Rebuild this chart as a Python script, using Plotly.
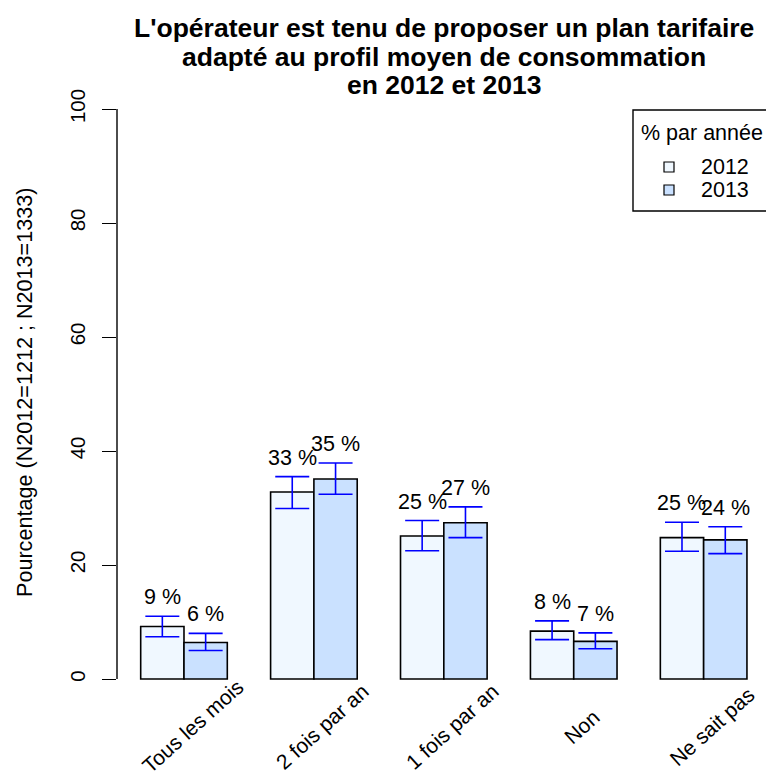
import plotly.graph_objects as go

# Survey answers, share of respondents (%) per year with 95 % confidence bounds
categories = ["Tous les mois", "2 fois par an", "1 fois par an", "Non", "Ne sait pas"]
years = ["2012", "2013"]
pct_2012 = [9.2, 32.8, 25.1, 8.4, 24.8]
pct_2013 = [6.4, 35.1, 27.4, 6.6, 24.4]
low_2012 = [7.4, 29.9, 22.5, 6.9, 22.4]
high_2012 = [11.0, 35.5, 27.8, 10.2, 27.5]
low_2013 = [5.0, 32.4, 24.8, 5.3, 22.0]
high_2013 = [8.0, 37.9, 30.2, 8.1, 26.7]
y_ticks = [0, 20, 40, 60, 80, 100]

fill_colors = ["#F0F8FF", "#CAE1FF"]
FONT = "Liberation Sans, Arial, sans-serif"
TXT = 21.5  # size of the horizontal labels

W, H = 766, 778
ML, MR, MT, MB = 117, 0, 83, 76


def paper_x(px):
    return (px - ML) / (W - ML - MR)


def paper_y(py):
    return (H - MB - py) / (H - MT - MB)


series = [
    (years[0], pct_2012, low_2012, high_2012, fill_colors[0], -0.5),
    (years[1], pct_2013, low_2013, high_2013, fill_colors[1], 0.5),
]

group_centers = [2 + 3 * i for i in range(len(categories))]

fig = go.Figure()
annotations = []

for name, vals, lows, highs, color, offset in series:
    xs = [c + offset for c in group_centers]
    fig.add_trace(go.Bar(
        x=xs, y=vals, width=1, name=name,
        marker=dict(color=color, line=dict(color="black", width=1.6)),
        error_y=dict(
            type="data", symmetric=False,
            array=[h - v for h, v in zip(highs, vals)],
            arrayminus=[v - l for v, l in zip(vals, lows)],
            color="#0000FF", thickness=1.6, width=17,
        ),
        showlegend=False, hoverinfo="skip",
    ))
    for x, v, h in zip(xs, vals, highs):
        annotations.append(dict(
            x=x, y=h, xref="x", yref="y", text=f"{round(v)} %",
            showarrow=False, yanchor="middle", yshift=19,
            font=dict(size=TXT, color="black", family=FONT),
        ))

# slanted category labels under each pair of bars
for c, lab in zip(group_centers, categories):
    annotations.append(dict(
        x=c + 0.19, y=paper_y(726), xref="x", yref="paper", text=lab,
        textangle=-42, showarrow=False, xanchor="center", yanchor="middle",
        font=dict(size=21, color="black", family=FONT),
    ))

# title, three centred lines
title_lines = [
    "L'opérateur est tenu de proposer un plan tarifaire",
    "adapté au profil moyen de consommation",
    "en 2012 et 2013",
]
for line, py in zip(title_lines, [28, 56.5, 85]):
    annotations.append(dict(
        x=paper_x(444), y=paper_y(py), xref="paper", yref="paper",
        text=f"<b>{line}</b>", showarrow=False, xanchor="center", yanchor="middle",
        font=dict(size=26.5, color="black", family=FONT),
    ))

# y axis title
annotations.append(dict(
    x=paper_x(24), y=paper_y(393), xref="paper", yref="paper",
    text="Pourcentage (N2012=1212 ; N2013=1333)", textangle=-90,
    showarrow=False, xanchor="center", yanchor="middle",
    font=dict(size=21.6, color="black", family=FONT),
))

# axis line from 0 to 100 and the legend box
shapes = [
    dict(type="line", xref="paper", yref="y", x0=0, x1=0, y0=y_ticks[0], y1=y_ticks[-1],
         line=dict(color="black", width=1.4)),
    dict(type="rect", xref="paper", yref="paper",
         x0=paper_x(633), x1=paper_x(780), y0=paper_y(211), y1=paper_y(110),
         line=dict(color="black", width=1.4), fillcolor="white"),
]
annotations.append(dict(
    x=paper_x(702), y=paper_y(133), xref="paper", yref="paper", text="% par année",
    showarrow=False, xanchor="center", yanchor="middle",
    font=dict(size=TXT, color="black", family=FONT),
))
for i, (name, color) in enumerate(zip(years, fill_colors)):
    cy = [167, 190][i]
    shapes.append(dict(
        type="rect", xref="paper", yref="paper",
        x0=paper_x(664), x1=paper_x(674), y0=paper_y(cy + 5), y1=paper_y(cy - 5),
        line=dict(color="black", width=1.2), fillcolor=color,
    ))
    annotations.append(dict(
        x=paper_x(699), y=paper_y(cy), xref="paper", yref="paper", text=name,
        showarrow=False, xanchor="left", yanchor="middle",
        font=dict(size=TXT, color="black", family=FONT),
    ))

px_per_unit = 5.70
fig.update_layout(
    width=W, height=H,
    margin=dict(l=ML, r=MR, t=MT, b=MB, pad=0),
    paper_bgcolor="white", plot_bgcolor="white",
    barmode="overlay",
    xaxis=dict(range=[0.453, 15.44], showticklabels=False, showgrid=False,
               zeroline=False, showline=False, ticks=""),
    yaxis=dict(range=[-23 / px_per_unit, 596 / px_per_unit], tickvals=y_ticks,
               ticktext=[str(t) for t in y_ticks], tickangle=-90,
               ticks="outside", ticklen=14, tickwidth=1.4, tickcolor="black",
               ticklabelstandoff=9,
               showgrid=False, zeroline=False, showline=False,
               tickfont=dict(size=20.5, color="black", family=FONT)),
    shapes=shapes, annotations=annotations,
    showlegend=False,
)

fig.write_html("out.html")
